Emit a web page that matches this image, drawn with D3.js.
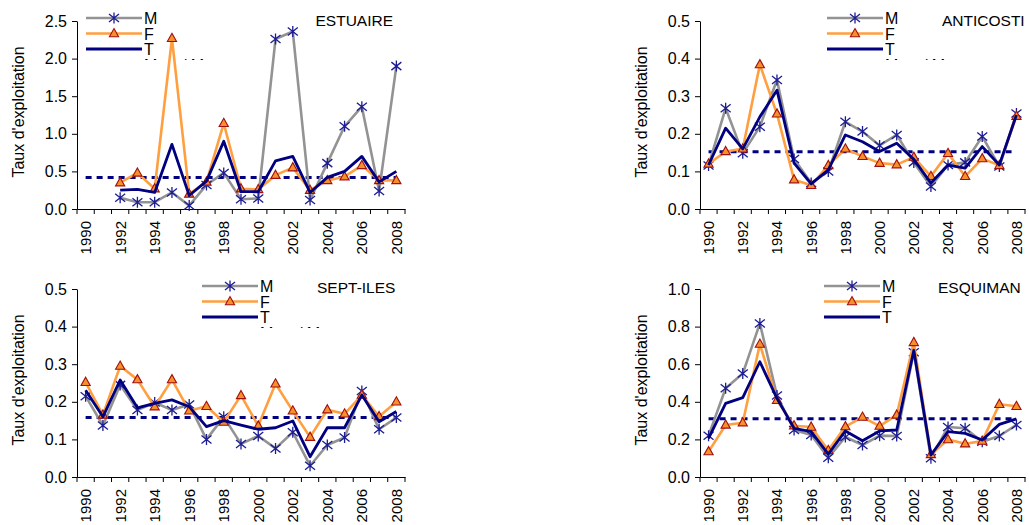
<!DOCTYPE html>
<html>
<head>
<meta charset="utf-8">
<script src="https://cdn.jsdelivr.net/npm/d3@7"></script>
<style>
  body { margin: 0; background: #fff; }
  svg, svg text { font-family: Arial, "Liberation Sans", sans-serif; }
</style>
</head>
<body>
<svg id="chart" width="1029" height="525"></svg>
<script>
// categories
var years = [1990, 1991, 1992, 1993, 1994, 1995, 1996, 1997, 1998, 1999,
             2000, 2001, 2002, 2003, 2004, 2005, 2006, 2007, 2008];
var yearLabels = [1990, 1992, 1994, 1996, 1998, 2000, 2002, 2004, 2006, 2008];
var seriesNames = ["M", "F", "T"];

// ESTUAIRE
var estM = [null, null, 0.15, 0.09, 0.09, 0.22, 0.045, 0.32, 0.48, 0.13, 0.14, 2.26, 2.36, 0.12, 0.61, 1.10, 1.36, 0.24, 1.90];
var estF = [null, null, 0.35, 0.48, 0.27, 2.27, 0.20, 0.36, 1.14, 0.27, 0.26, 0.45, 0.55, 0.25, 0.38, 0.43, 0.58, 0.38, 0.38];
var estT = [null, null, 0.25, 0.26, 0.22, 0.86, 0.18, 0.37, 0.90, 0.23, 0.23, 0.64, 0.70, 0.22, 0.42, 0.50, 0.70, 0.36, 0.50];
var estMean = 0.42;
var estTicks = [0, 0.5, 1.0, 1.5, 2.0, 2.5];

// ANTICOSTI
var antM = [0.116, 0.268, 0.148, 0.219, 0.343, 0.133, 0.069, 0.100, 0.232, 0.206, 0.169, 0.197, 0.124, 0.060, 0.117, 0.124, 0.193, 0.113, 0.254];
var antF = [0.120, 0.153, 0.160, 0.384, 0.253, 0.078, 0.063, 0.116, 0.160, 0.140, 0.122, 0.118, 0.138, 0.087, 0.148, 0.087, 0.134, 0.116, 0.247];
var antT = [0.117, 0.215, 0.160, 0.245, 0.316, 0.122, 0.067, 0.104, 0.197, 0.179, 0.153, 0.175, 0.132, 0.069, 0.117, 0.109, 0.166, 0.117, 0.250];
var antMean = 0.152;
var antTicks = [0, 0.1, 0.2, 0.3, 0.4, 0.5];

// SEPT-ILES
var sepM = [0.215, 0.137, 0.245, 0.178, 0.198, 0.178, 0.193, 0.100, 0.160, 0.088, 0.109, 0.076, 0.119, 0.030, 0.085, 0.105, 0.229, 0.127, 0.158];
var sepF = [0.252, 0.165, 0.295, 0.259, 0.187, 0.259, 0.176, 0.188, 0.146, 0.217, 0.136, 0.248, 0.176, 0.106, 0.179, 0.168, 0.218, 0.161, 0.200];
var sepT = [0.231, 0.160, 0.258, 0.184, 0.196, 0.205, 0.187, 0.134, 0.150, 0.138, 0.127, 0.131, 0.149, 0.054, 0.131, 0.131, 0.218, 0.147, 0.174];
var sepMean = 0.158;
var sepTicks = [0, 0.1, 0.2, 0.3, 0.4, 0.5];

// ESQUIMAN
var esqM = [0.22, 0.472, 0.55, 0.817, 0.433, 0.25, 0.223, 0.103, 0.213, 0.17, 0.22, 0.218, 0.663, 0.10, 0.266, 0.259, 0.188, 0.218, 0.277];
var esqF = [0.135, 0.277, 0.289, 0.707, 0.408, 0.273, 0.266, 0.142, 0.268, 0.319, 0.271, 0.33, 0.716, 0.12, 0.199, 0.177, 0.191, 0.387, 0.376];
var esqT = [0.206, 0.392, 0.422, 0.613, 0.418, 0.259, 0.241, 0.122, 0.245, 0.193, 0.245, 0.25, 0.674, 0.117, 0.241, 0.232, 0.197, 0.28, 0.309];
var esqMean = 0.31;
var esqTicks = [0, 0.2, 0.4, 0.6, 0.8, 1.0];

var colM = "#939393", colF = "#ff9f3f", colT = "#000080", colStar = "#1c1c94";
var colTri = "#f5902a", colTriEdge = "#a01010";
var FONT = "Arial, 'Liberation Sans', sans-serif";

var panels = [
  { title: "ESTUAIRE", M: estM, F: estF, T: estT, mean: estMean, ticks: estTicks,
    left: 77, right: 405, top: 21, bottom: 209, titleX: 393, titleAnchor: "end", titleY: 26,
    legX: 86, legY: 18, frag: true },
  { title: "ANTICOSTI", M: antM, F: antF, T: antT, mean: antMean, ticks: antTicks,
    left: 700, right: 1025, top: 21, bottom: 209, titleX: 942, titleAnchor: "start", titleY: 26,
    legX: 827, legY: 18, frag: true },
  { title: "SEPT-ILES", M: sepM, F: sepF, T: sepT, mean: sepMean, ticks: sepTicks,
    left: 77, right: 405, top: 289, bottom: 477, titleX: 317, titleAnchor: "start", titleY: 293,
    legX: 202, legY: 286, frag: true },
  { title: "ESQUIMAN", M: esqM, F: esqF, T: esqT, mean: esqMean, ticks: esqTicks,
    left: 700, right: 1025, top: 289, bottom: 477, titleX: 938, titleAnchor: "start", titleY: 293,
    legX: 824, legY: 286, frag: false }
];

var svg = d3.select("#chart");
var starPath = "M0,-5.5V5.5M-5,-4L5,4M-5,4L5,-4";
var triPath = "M0,-5L4.6,3.2L-4.6,3.2Z";

function drawStars(g, pts) {
  g.selectAll(null).data(pts).enter().append("path")
    .attr("d", starPath)
    .attr("transform", function (d) { return "translate(" + d[0] + "," + d[1] + ")"; })
    .attr("fill", "none").attr("stroke", colStar).attr("stroke-width", 1.3);
}

function drawTris(g, pts) {
  g.selectAll(null).data(pts).enter().append("path")
    .attr("d", triPath)
    .attr("transform", function (d) { return "translate(" + d[0] + "," + d[1] + ")"; })
    .attr("fill", colTri).attr("stroke", colTriEdge).attr("stroke-width", 1.1);
}

panels.forEach(function (p, pi) {
  var g = svg.append("g");

  var x = d3.scaleBand().domain(years).range([p.left, p.right]).padding(0);
  var xc = function (yr) { return x(yr) + x.bandwidth() / 2; };
  var y = d3.scaleLinear().domain([0, p.ticks[p.ticks.length - 1]]).range([p.bottom, p.top]);

  // y axis
  var ya = g.append("g").attr("transform", "translate(" + p.left + ",0)")
    .call(d3.axisLeft(y).tickValues(p.ticks).tickFormat(d3.format(".1f"))
      .tickSize(5).tickSizeOuter(0).tickPadding(5));
  ya.attr("font-family", FONT).attr("font-size", 16);
  ya.selectAll("text").attr("fill", "#000");
  ya.selectAll("line, path").attr("stroke", "#000");

  // x axis: labels on even years, ticks between categories
  var xa = g.append("g").attr("transform", "translate(0," + p.bottom + ")")
    .call(d3.axisBottom(x).tickValues(yearLabels).tickSize(0).tickSizeOuter(0));
  xa.attr("font-family", FONT).attr("font-size", 15);
  xa.select(".domain").attr("stroke", "#000");
  xa.selectAll("text")
    .attr("transform", "rotate(-90)")
    .attr("x", -12).attr("y", 0).attr("dy", "0.36em")
    .attr("text-anchor", "end").attr("fill", "#000");
  var bounds = years.map(function (yr) { return x(yr); }).concat([p.right]);
  g.selectAll(null).data(bounds).enter().append("line")
    .attr("x1", function (d) { return d; }).attr("x2", function (d) { return d; })
    .attr("y1", p.bottom).attr("y2", p.bottom + 5)
    .attr("stroke", "#000");

  // y title
  g.append("text")
    .attr("transform", "translate(" + (p.left - 59) + "," + ((p.top + p.bottom) / 2 - 3) + ") rotate(-90)")
    .attr("dy", "0.35em").attr("text-anchor", "middle").attr("font-size", 16)
    .text("Taux d'exploitation");

  // mean dashed line
  g.append("line")
    .attr("x1", xc(years[0])).attr("x2", xc(years[years.length - 1]))
    .attr("y1", y(p.mean)).attr("y2", y(p.mean))
    .attr("stroke", colT).attr("stroke-width", 3).attr("stroke-dasharray", "6,5");

  var line = d3.line()
    .defined(function (d) { return d != null; })
    .x(function (d, i) { return xc(years[i]); })
    .y(function (d) { return y(d); });

  function pts(arr) {
    var out = [];
    arr.forEach(function (d, i) { if (d != null) out.push([xc(years[i]), y(d)]); });
    return out;
  }

  g.append("path").datum(p.M).attr("d", line).attr("fill", "none")
    .attr("stroke", colM).attr("stroke-width", 2.6).attr("stroke-linejoin", "round");
  drawStars(g, pts(p.M));

  g.append("path").datum(p.F).attr("d", line).attr("fill", "none")
    .attr("stroke", colF).attr("stroke-width", 2.6).attr("stroke-linejoin", "round");
  drawTris(g, pts(p.F));

  g.append("path").datum(p.T).attr("d", line).attr("fill", "none")
    .attr("stroke", colT).attr("stroke-width", 2.8).attr("stroke-linejoin", "round");

  // title
  g.append("text").attr("x", p.titleX).attr("y", p.titleY)
    .attr("text-anchor", p.titleAnchor).attr("font-size", 15.5).text(p.title);

  // legend
  var lg = g.append("g");
  var legCols = [colM, colF, colT];
  seriesNames.forEach(function (s, i) {
    var ly = p.legY + i * 15.5;
    lg.append("line").attr("x1", p.legX).attr("x2", p.legX + 56)
      .attr("y1", ly).attr("y2", ly)
      .attr("stroke", legCols[i]).attr("stroke-width", i == 2 ? 2.8 : 2.6);
    if (i == 0) drawStars(lg, [[p.legX + 28, ly]]);
    if (i == 1) drawTris(lg, [[p.legX + 28, ly]]);
    lg.append("text").attr("x", p.legX + 58).attr("y", ly + 6)
      .attr("font-size", 16).text(s);
  });
  if (p.frag) {
    // fourth legend entry, cut off by the legend box
    var fy = p.legY + 3 * 15.5 + 6;
    var cid = "clip" + pi;
    svg.append("clipPath").attr("id", cid).append("rect")
      .attr("x", p.legX).attr("y", fy - 13).attr("width", 140).attr("height", 2.5);
    lg.append("text").attr("x", p.legX + 58).attr("y", fy)
      .attr("clip-path", "url(#" + cid + ")")
      .attr("font-size", 16).text("Moy. / Moyenne");
  }
});
</script>
</body>
</html>
